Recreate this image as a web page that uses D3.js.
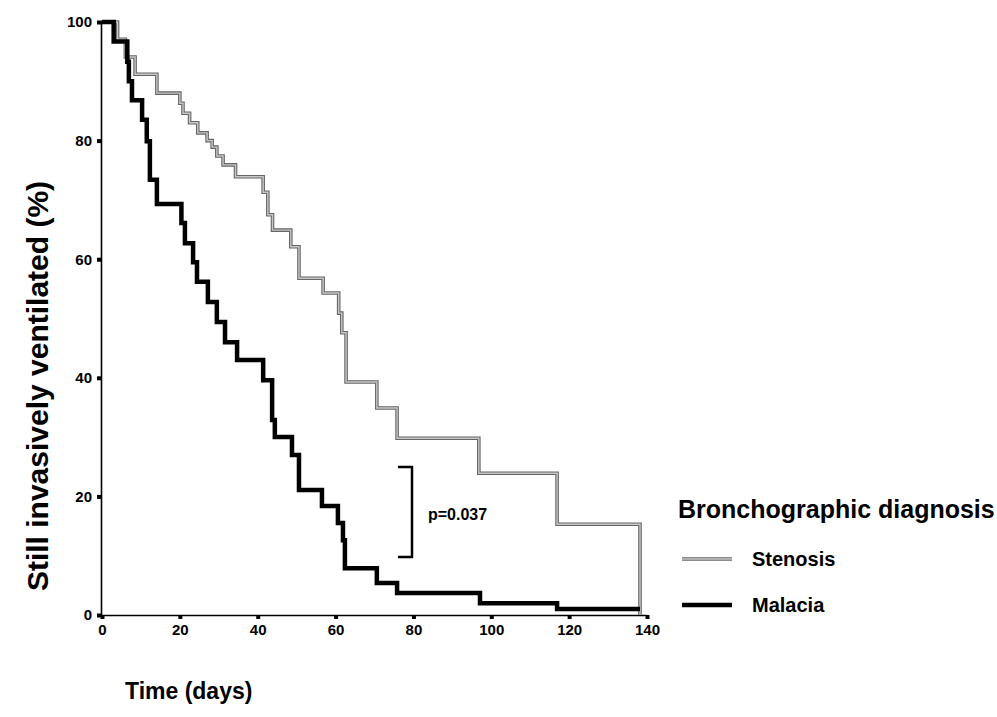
<!DOCTYPE html>
<html>
<head>
<meta charset="utf-8">
<script src="https://cdn.jsdelivr.net/npm/d3@7"></script>
<style>
  body { margin: 0; background: #fff; }
  text { font-family: "Liberation Sans", Arial, sans-serif; font-weight: bold; fill: #000; }
</style>
</head>
<body>
<script>
// Kaplan-Meier steps (day, % still ventilated)
var stenosisDays = [0, 4.0, 6.0, 8.5, 14.1, 20.0, 20.8, 22.5, 24.6, 27.0, 28.3, 29.5, 31.1, 34.3, 41.4, 42.6, 43.8, 48.5, 50.6, 56.8, 60.8, 61.6, 62.7, 70.6, 75.8, 96.8, 116.9, 138.2];
var stenosisPct  = [100, 97.1, 94.1, 91.2, 88.0, 86.3, 84.6, 83.0, 81.3, 80.0, 78.9, 77.4, 75.9, 73.9, 71.3, 67.5, 64.9, 62.1, 56.8, 54.3, 50.9, 47.6, 39.3, 34.9, 29.8, 23.9, 15.3, 0];
var malaciaDays = [0, 3.0, 6.5, 6.9, 7.7, 10.3, 11.5, 12.3, 14.1, 20.4, 21.3, 23.4, 24.4, 27.2, 29.5, 31.6, 34.7, 41.4, 43.7, 44.4, 48.8, 50.6, 56.5, 60.6, 61.9, 62.4, 70.6, 75.8, 97.1, 116.9, 138.2];
var malaciaPct  = [100, 96.7, 93.3, 90.0, 86.8, 83.5, 79.9, 73.4, 69.3, 66.1, 62.7, 59.5, 56.2, 52.8, 49.4, 46.0, 43.0, 39.6, 32.9, 30.0, 27.0, 21.1, 18.4, 15.5, 12.6, 7.9, 5.4, 3.7, 2.0, 1.0, 1.0];
var xTicks = [0, 20, 40, 60, 80, 100, 120, 140];
var yTicks = [0, 20, 40, 60, 80, 100];
var groups = ["Stenosis", "Malacia"];

var width = 997, height = 717;

var svg = d3.select("body").append("svg")
    .attr("width", width)
    .attr("height", height);

var x = d3.scaleLinear().domain([0, 140]).range([102, 647]);
var y = d3.scaleLinear().domain([0, 100]).range([615, 22]);

// axes
var yAxis = d3.axisLeft(y).tickValues(yTicks).tickSize(5).tickPadding(5);
var xAxis = d3.axisBottom(x).tickValues(xTicks).tickSize(4).tickPadding(5);

var gy = svg.append("g").attr("transform", "translate(" + x(0) + ",0)").call(yAxis);
var gx = svg.append("g").attr("transform", "translate(0," + y(0) + ")").call(xAxis);

[gy, gx].forEach(function(g) {
  g.select(".domain").attr("stroke", "#000").attr("stroke-width", 1.6);
  g.selectAll(".tick line").attr("stroke", "#000").attr("stroke-width", 4);
  g.selectAll(".tick text")
    .style("font-family", "'Liberation Sans', Arial, sans-serif")
    .style("font-weight", "bold")
    .style("font-size", "15px")
    .attr("fill", "#000");
});
gx.select(".domain").attr("d", "M" + x(0) + ",0.5H" + x(140));
gy.select(".domain").attr("d", "M-0.5," + y(100) + "V" + y(0));

// curves
var line = d3.line()
    .x(function(d) { return x(d[0]); })
    .y(function(d) { return y(d[1]); })
    .curve(d3.curveStepAfter);

var stenosis = stenosisDays.map(function(d, i) { return [d, stenosisPct[i]]; });
var malacia = malaciaDays.map(function(d, i) { return [d, malaciaPct[i]]; });

svg.append("path").datum(stenosis)
    .attr("d", line).attr("fill", "none")
    .attr("stroke", "#666").attr("stroke-width", 3.6);
svg.append("path").datum(stenosis)
    .attr("d", line).attr("fill", "none")
    .attr("stroke", "#c8c8c8").attr("stroke-width", 1.4);

svg.append("path").datum(malacia)
    .attr("d", line).attr("fill", "none")
    .attr("stroke", "#000").attr("stroke-width", 4.5);

// p-value bracket
svg.append("path")
    .attr("d", "M398,467H412V557H398")
    .attr("fill", "none").attr("stroke", "#000").attr("stroke-width", 2.5);
svg.append("text").attr("x", 428).attr("y", 520)
    .style("font-size", "16px").text("p=0.037");

// axis titles
svg.append("text")
    .attr("transform", "translate(48,386) rotate(-90)")
    .attr("text-anchor", "middle")
    .style("font-size", "30px")
    .text("Still invasively ventilated (%)");
svg.append("text").attr("x", 125).attr("y", 699)
    .style("font-size", "23px").text("Time (days)");

// legend
var legend = svg.append("g");
legend.append("text").attr("x", 678).attr("y", 518)
    .style("font-size", "25px").text("Bronchographic diagnosis");

var ly = d3.scalePoint().domain(groups).range([559, 605]);
groups.forEach(function(g) {
  if (g === "Stenosis") {
    legend.append("line").attr("x1", 682).attr("x2", 732).attr("y1", ly(g)).attr("y2", ly(g))
        .attr("stroke", "#666").attr("stroke-width", 3.6);
    legend.append("line").attr("x1", 682).attr("x2", 732).attr("y1", ly(g)).attr("y2", ly(g))
        .attr("stroke", "#c8c8c8").attr("stroke-width", 1.4);
  } else {
    legend.append("line").attr("x1", 682).attr("x2", 732).attr("y1", ly(g)).attr("y2", ly(g))
        .attr("stroke", "#000").attr("stroke-width", 4.5);
  }
  legend.append("text").attr("x", 752).attr("y", ly(g) + 7)
      .style("font-size", "20px").text(g);
});
</script>
</body>
</html>
